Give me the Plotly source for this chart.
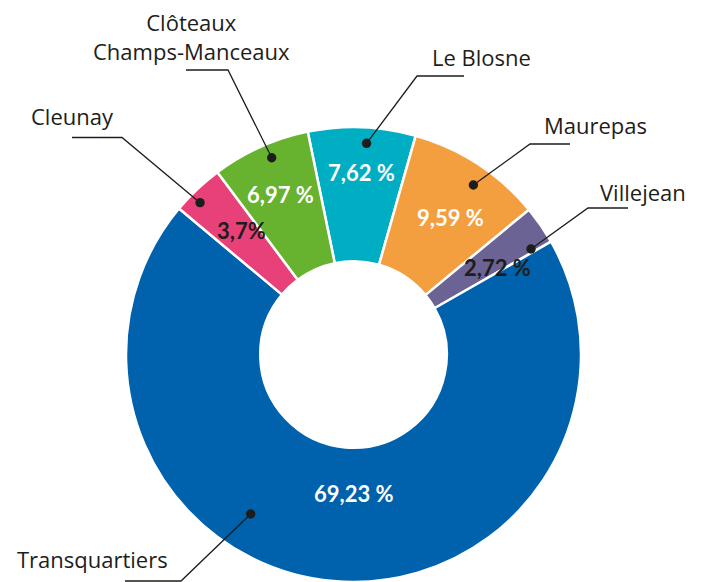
import math
import plotly.graph_objects as go

# ---------------- data ----------------
categories = ["Le Blosne", "Maurepas", "Villejean", "Transquartiers", "Cleunay", "Clôteaux Champs-Manceaux"]
label_texts = ["Le Blosne", "Maurepas", "Villejean", "Transquartiers", "Cleunay", "Clôteaux<br>Champs-Manceaux"]
values = [7.62, 9.59, 2.72, 69.23, 3.7, 6.97]
value_texts = ["7,62 %", "9,59 %", "2,72 %", "69,23 %", "3,7%", "6,97 %"]
colors = ["#00AEC3", "#F49F3F", "#6B6393", "#0061AD", "#E8417A", "#67B22F"]
value_text_colors = ["white", "white", "#1d1d1b", "white", "#1d1d1b", "white"]

# ---------------- geometry / layout ----------------
W, H = 708, 582
R = 227.5
CX, CY = 353.5, 354.5
ROTATION = 348.4
HOLE = 0.41
VALUE_FONT = "Lato"
LABEL_FONT = "Open Sans"
DARK = "#1d1d1b"

# per-slice placement: (angle nudge, radius px)
text_place = [(0.5, 181.7), (2.3, 167.7), (3.7, 168.4), (-5.3, 139.5), (1.1, 167.0), (-0.5, 175.6)]
dot_place = [(1.4, 211.6), (2.1, 207.6), (3.9, 206.5), (27.7, 189.8), (-1.9, 215.9), (1.6, 213.1)]
# leader line: elbow and end (px), label anchor (px), xanchor
elbows = [(417, 76), (530, 144), (588, 208), (181, 581), (122, 137.5), (228, 70)]
ends = [(464, 76), (570, 144), (628, 208), (125, 581), (72, 137.5), (186, 70)]
label_pos = [(430, 57), (542, 125), (598, 192), (15, 559), (29, 116), (191.5, 36)]
label_anchor = ["left", "left", "left", "left", "left", "center"]


def px2paper(x, y):
    return x / W, 1 - y / H


def polar(angle_deg, r):
    a = math.radians(angle_deg)
    return CX + r * math.sin(a), CY - r * math.cos(a)


total = sum(values)
mids = []
acc = ROTATION
for v in values:
    span = v / total * 360
    mids.append(acc + span / 2)
    acc += span

fig = go.Figure()
fig.add_trace(go.Pie(
    labels=categories,
    values=values,
    sort=False,
    direction="clockwise",
    rotation=ROTATION,
    hole=HOLE,
    marker=dict(colors=colors, line=dict(color="white", width=2.5)),
    textinfo="none",
    hovertemplate="%{label}: %{value}<extra></extra>",
    showlegend=False,
    domain=dict(x=[(CX - R) / W, (CX + R) / W], y=[1 - (CY + R) / H, 1 - (CY - R) / H]),
))

annotations = []
shapes = []
for i in range(len(values)):
    # value text
    tx, ty = polar(mids[i] + text_place[i][0], text_place[i][1])
    px_, py_ = px2paper(tx, ty)
    annotations.append(dict(
        x=px_, y=py_, xref="paper", yref="paper", text=value_texts[i],
        showarrow=False, xanchor="center", yanchor="middle",
        font=dict(family=VALUE_FONT, size=22, color=value_text_colors[i], weight="bold"),
    ))
    # leader line
    dx, dy = polar(mids[i] + dot_place[i][0], dot_place[i][1])
    p0 = px2paper(dx, dy)
    p1 = px2paper(*elbows[i])
    p2 = px2paper(*ends[i])
    shapes.append(dict(
        type="path", xref="paper", yref="paper",
        path=f"M {p0[0]} {p0[1]} L {p1[0]} {p1[1]} L {p2[0]} {p2[1]}",
        line=dict(color=DARK, width=1.3),
    ))
    shapes.append(dict(
        type="circle", xref="paper", yref="paper",
        xsizemode="pixel", ysizemode="pixel",
        xanchor=p0[0], yanchor=p0[1], x0=-4.7, x1=4.7, y0=-4.7, y1=4.7,
        fillcolor=DARK, line=dict(width=0),
    ))
    # category label
    lx, ly = px2paper(*label_pos[i])
    annotations.append(dict(
        x=lx, y=ly, xref="paper", yref="paper", text=label_texts[i],
        showarrow=False, xanchor=label_anchor[i], yanchor="middle", align="center",
        font=dict(family=LABEL_FONT, size=22, color=DARK),
    ))

fig.update_layout(
    width=W, height=H,
    margin=dict(l=0, r=0, t=0, b=0),
    paper_bgcolor="white", plot_bgcolor="white",
    annotations=annotations, shapes=shapes,
)

fig.write_html(
    "out.html",
    config={"displayModeBar": False},
    post_script="document.body.style.margin='0';document.body.style.overflow='hidden';",
)
